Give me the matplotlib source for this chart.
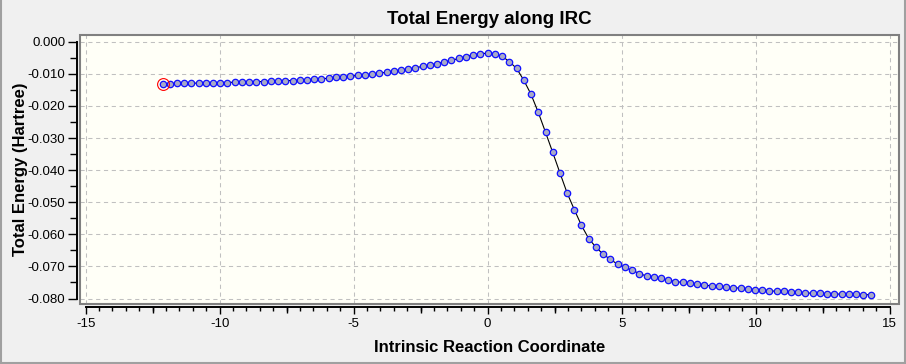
import numpy as np
import matplotlib.pyplot as plt
import matplotlib.transforms as mtransforms
from matplotlib.lines import Line2D
from matplotlib.patches import Rectangle
from matplotlib.markers import TICKDOWN
from matplotlib.ticker import FixedLocator, MultipleLocator

plt.rcParams['font.family'] = ['Liberation Sans', 'DejaVu Sans']

# IRC points (reaction coordinate, total energy in Hartree)
irc_coord = [
    -12.13, -11.86, -11.59, -11.32, -11.05, -10.78, -10.51, -10.24, -9.98, -9.71,
    -9.44, -9.17, -8.90, -8.63, -8.36, -8.09, -7.82, -7.55, -7.28, -7.01,
    -6.74, -6.47, -6.20, -5.93, -5.66, -5.39, -5.12, -4.85, -4.58, -4.31,
    -4.04, -3.77, -3.50, -3.24, -2.97, -2.70, -2.43, -2.16, -1.89, -1.62,
    -1.35, -1.08, -0.81, -0.54, -0.27, 0.00, 0.27, 0.54, 0.81, 1.08,
    1.35, 1.62, 1.89, 2.16, 2.43, 2.70, 2.97, 3.24, 3.50, 3.77,
    4.04, 4.31, 4.58, 4.85, 5.12, 5.39, 5.66, 5.93, 6.20, 6.47,
    6.74, 7.01, 7.28, 7.55, 7.82, 8.09, 8.36, 8.63, 8.90, 9.17,
    9.44, 9.71, 9.98, 10.24, 10.51, 10.78, 11.05, 11.32, 11.59, 11.86,
    12.13, 12.40, 12.67, 12.94, 13.21, 13.48, 13.75, 14.02, 14.29,
]
energy = [
    -0.0133, -0.0132, -0.0130, -0.0130, -0.0129, -0.0129, -0.0129, -0.0128, -0.0127, -0.0127,
    -0.0126, -0.0126, -0.0125, -0.0124, -0.0124, -0.0123, -0.0122, -0.0121, -0.0121, -0.0120,
    -0.0118, -0.0117, -0.0115, -0.0114, -0.0111, -0.0110, -0.0107, -0.0105, -0.0103, -0.0101,
    -0.0098, -0.0095, -0.0092, -0.0089, -0.0086, -0.0081, -0.0077, -0.0073, -0.0068, -0.0063,
    -0.0058, -0.0052, -0.0046, -0.0041, -0.0037, -0.0036, -0.0039, -0.0045, -0.0062, -0.0083,
    -0.0120, -0.0164, -0.0220, -0.0282, -0.0345, -0.0409, -0.0472, -0.0524, -0.0572, -0.0613,
    -0.0640, -0.0662, -0.0678, -0.0693, -0.0703, -0.0712, -0.0722, -0.0730, -0.0734, -0.0737,
    -0.0743, -0.0747, -0.0750, -0.0753, -0.0756, -0.0759, -0.0760, -0.0762, -0.0765, -0.0766,
    -0.0768, -0.0771, -0.0772, -0.0774, -0.0775, -0.0778, -0.0778, -0.0781, -0.0781, -0.0782,
    -0.0784, -0.0784, -0.0785, -0.0785, -0.0787, -0.0787, -0.0787, -0.0788, -0.0788,
]

x_ticks = [-15, -10, -5, 0, 5, 10, 15]
x_tick_labels = ['-15', '-10', '-5', '0', '5', '10', '15']
x_mid_ticks = [-12.5, -7.5, -2.5, 2.5, 7.5, 12.5]
y_ticks = [0.0, -0.01, -0.02, -0.03, -0.04, -0.05, -0.06, -0.07, -0.08]
y_tick_labels = ['0.000', '-0.010', '-0.020', '-0.030', '-0.040',
                 '-0.050', '-0.060', '-0.070', '-0.080']

fig = plt.figure(figsize=(9.06, 3.64), dpi=100, facecolor='#f0f0f0')
ax = fig.add_axes([80 / 906, 60 / 364, 819 / 906, 269 / 364])
ax.set_facecolor('#fffff7')
ax.set_xlim(-15.21, 15.35)
ax.set_ylim(-0.0817, 0.0021)

# gray plot-area frame
ax.add_patch(Rectangle((0, 0), 1, 1, transform=ax.transAxes, fill=False,
                       edgecolor='#808080', lw=1.5, clip_on=False, zorder=5))

for side in ['top', 'right']:
    ax.spines[side].set_visible(False)
for side in ['left', 'bottom']:
    ax.spines[side].set_position(('outward', 2.2))
    ax.spines[side].set_color('black')
    ax.spines[side].set_linewidth(1.4)
ax.spines['left'].set_bounds(-0.08, 0.0)
ax.spines['bottom'].set_bounds(-15, 15)

ax.xaxis.set_major_locator(FixedLocator(x_ticks))
ax.set_xticklabels(x_tick_labels)
ax.xaxis.set_minor_locator(MultipleLocator(0.5))
ax.yaxis.set_major_locator(FixedLocator(y_ticks))
ax.set_yticklabels(y_tick_labels)
ax.yaxis.set_minor_locator(MultipleLocator(0.005))

ax.tick_params(axis='x', which='major', length=5, width=1, pad=3, labelsize=9.5)
ax.tick_params(axis='x', which='minor', length=3, width=1)
ax.tick_params(axis='y', which='major', length=6.5, width=1, pad=2, labelsize=9.5)
ax.tick_params(axis='y', which='minor', length=5, width=1)

# medium ticks halfway between labelled x ticks
trans = mtransforms.blended_transform_factory(ax.transData, ax.transAxes) + \
    mtransforms.ScaledTranslation(0, -2.2 / 72, fig.dpi_scale_trans)
ax.plot(x_mid_ticks, [0] * len(x_mid_ticks), transform=trans, linestyle='none',
        marker=TICKDOWN, markersize=4, markeredgewidth=1, color='black', clip_on=False)

ax.grid(True, which='major', color='#c0c0c0', linestyle=(0, (4, 3.5)), lw=0.75)
ax.set_axisbelow(True)

ax.plot(irc_coord, energy, color='black', lw=0.8, marker='o', ms=4.6,
        mfc='#a8aac6', mec='#1010ff', mew=0.9, zorder=3)
ax.plot(irc_coord[0], energy[0], linestyle='none', marker='o', ms=8.5,
        mfc='none', mec='red', mew=0.8, zorder=4)

ax.set_title('Total Energy along IRC', fontsize=13.5, fontweight='bold', pad=8)
ax.set_xlabel('Intrinsic Reaction Coordinate', fontsize=12, fontweight='bold')
ax.xaxis.set_label_coords(0.5, -0.133)
ax.xaxis.label.set_va('top')
ax.set_ylabel('Total Energy (Hartree)', fontsize=12, fontweight='bold')
ax.yaxis.set_label_coords(-0.064, 0.5)

# window border
for xs, ys in [([0.001, 0.001], [0, 1]), ([0.999, 0.999], [0, 1]), ([0, 1], [0.002, 0.002])]:
    fig.add_artist(Line2D(xs, ys, transform=fig.transFigure, color='#a0a0a0', lw=1.5))

fig.savefig('out.png', dpi=100, facecolor=fig.get_facecolor())
